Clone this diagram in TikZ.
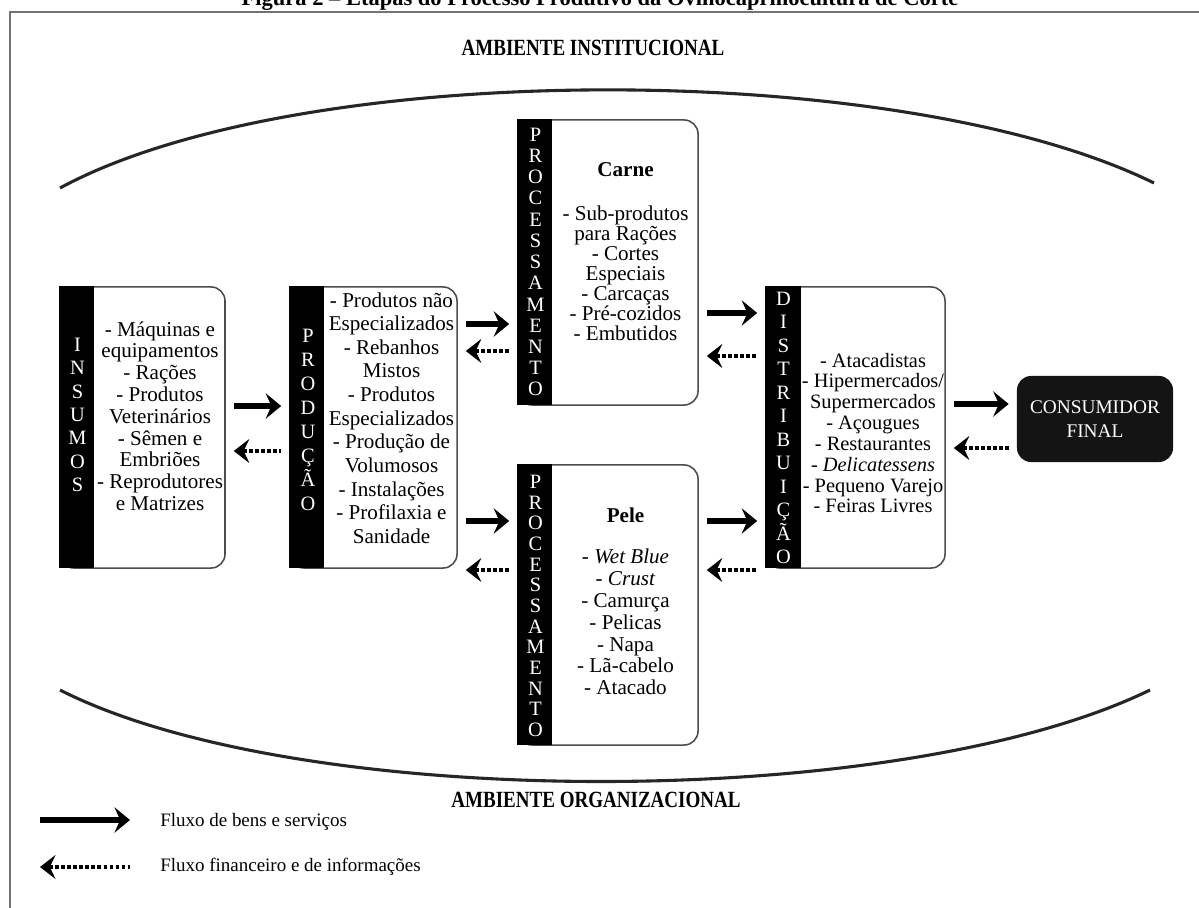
\documentclass[tikz,border=0pt]{standalone}
\usepackage{fontspec}
\setmainfont{Liberation Serif}
\usetikzlibrary{
  arrows.meta,
  positioning,
  calc
}

\begin{document}
\lineskiplimit=-100pt
\begin{tikzpicture}[
  x=0.025cm, y=-0.025cm,
  stage/.style={
    rectangle, rounded corners=0.35cm, draw=black!70, line width=1.1pt,
    fill=white, inner sep=0pt
  },
  bar/.style={
    rectangle, fill=black, inner sep=0pt,
    minimum width=0.875cm, minimum height=#1, anchor=north west
  },
  barword/.style={
    text=white, align=center, inner sep=0pt,
    font=\fontsize{14.5}{#1}\selectfont
  },
  items/.style={
    align=center, inner sep=0pt,
    font=\fontsize{15}{#1}\selectfont
  },
  heading/.style={font=\fontsize{15}{15}\selectfont\bfseries, inner sep=0pt},
  sink/.style={
    rectangle, rounded corners=0.35cm, fill=black!92, text=white,
    align=center, inner sep=0pt, minimum width=3.9cm, minimum height=2.15cm,
    font=\fontsize{13.75}{17}\selectfont
  },
  envline/.style={line width=2.2pt, black!85},
  envlabel/.style={font=\fontsize{16.5}{16.5}\selectfont\bfseries, inner sep=0pt},
  frame/.style={line width=1.2pt, black!55},
  flow/.style={
    -{Stealth[length=11pt, width=18pt, inset=4pt]}, line width=3.6pt,
    shorten <=0.2cm, shorten >=0.2cm
  },
  back/.style={
    {Stealth[length=11pt, width=17pt, inset=4pt]}-, line width=2.8pt,
    dash pattern=on 2.6pt off 1.7pt, shorten <=0.2cm, shorten >=0.2cm
  },
  legend/.style={anchor=west, inner sep=0pt, font=\fontsize{13.5}{15}\selectfont},
]

\fill[white] (0,0) rectangle (1199,908);
\useasboundingbox (0,0) rectangle (1199,908);

% Caption (cut by the page edge) and frame
\node[heading, font=\fontsize{16}{16}\selectfont\bfseries, anchor=base] (title) at (600,5)
  {Figura 2 -- Etapas do Processo Produtivo da Ovinocaprinocultura de Corte};
\draw[frame] (10,940) -- (10,12) -- (1230,12);

% Environment arcs and labels
\draw[envline] (60,188) .. controls (300,58) and (900,58) .. (1154,183);
\draw[envline] (60,690) .. controls (300,812) and (900,812) .. (1150,690);
\node[envlabel] (inst) at (593,48) {\scalebox{0.82}[1]{AMBIENTE INSTITUCIONAL}};
\node[envlabel] (org) at (596,800) {\scalebox{0.82}[1]{AMBIENTE ORGANIZACIONAL}};

% Insumos
\node[stage, minimum width=4.125cm, minimum height=7.025cm] (ins) at (142.5,427.5) {};
\node[bar=7.025cm] (insbar) at (ins.north west) {};
\node[barword=16.6pt] (insword) at (77.5,415) {I\\N\\S\\U\\M\\O\\S};
\node[items=15.5pt] (instxt) at (160,416)
  {- Máquinas e\\equipamentos\\- Rações\\- Produtos\\Veterinários\\
   - Sêmen e\\Embriões\\- Reprodutores\\e Matrizes};

% Producao
\node[stage, minimum width=4.175cm, minimum height=7.025cm] (prod) at (373.5,427.5) {};
\node[bar=7.025cm] (prodbar) at (prod.north west) {};
\node[barword=17pt] (prodword) at (308,420) {P\\R\\O\\D\\U\\Ç\\Ã\\O};
\node[items=16.8pt] (prodtxt) at (391.5,418)
  {- Produtos não\\Especializados\\- Rebanhos\\Mistos\\- Produtos\\
   Especializados\\- Produção de\\Volumosos\\- Instalações\\
   - Profilaxia e\\Sanidade};

% Processamento: carne
\node[stage, minimum width=4.5cm, minimum height=7.125cm] (carne) at (608,262.5) {};
\node[bar=7.125cm] (carnebar) at (carne.north west) {};
\node[barword=15.1pt] (carneword) at (535.5,262)
  {P\\R\\O\\C\\E\\S\\S\\A\\M\\E\\N\\T\\O};
\node[heading] (carnehead) at (625.5,170) {Carne};
\node[items=14.2pt] (carnetxt) at (625.5,273)
  {- Sub-produtos\\para Rações\\- Cortes\\Especiais\\- Carcaças\\
   - Pré-cozidos\\- Embutidos};

% Processamento: pele
\node[stage, minimum width=4.5cm, minimum height=7cm] (pele) at (608,605) {};
\node[bar=7cm] (pelebar) at (pele.north west) {};
\node[barword=14.7pt] (peleword) at (535.5,606)
  {P\\R\\O\\C\\E\\S\\S\\A\\M\\E\\N\\T\\O};
\node[heading] (pelehead) at (625.5,515) {Pele};
\node[items=15.5pt] (peletxt) at (625.5,622)
  {- \textit{Wet Blue}\\- \textit{Crust}\\- Camurça\\- Pelicas\\- Napa\\
   - Lã-cabelo\\- Atacado};

% Distribuicao
\node[stage, minimum width=4.475cm, minimum height=7.025cm] (dist) at (855.5,427.5) {};
\node[bar=7.025cm] (distbar) at (dist.north west) {};
\node[barword=16.7pt] (distword) at (783.5,428)
  {D\\I\\S\\T\\R\\I\\B\\U\\I\\Ç\\Ã\\O};
\node[items=14.8pt, font=\fontsize{14.5}{14.8pt}\selectfont] (disttxt) at (873,433)
  {- Atacadistas\\- Hipermercados/\\Supermercados\\- Açougues\\
   - Restaurantes\\- \textit{Delicatessens}\\- Pequeno Varejo\\- Feiras Livres};

% Consumidor final
\node[sink] (cons) at (1095,419) {CONSUMIDOR\\FINAL};

% Flows between stages
\draw[flow] (ins.east |- 0,406) -- (prod.west |- 0,406);
\draw[back] (ins.east |- 0,451) -- (prod.west |- 0,451);
\draw[flow] (prod.east |- 0,324) -- (carne.west |- 0,324);
\draw[back] (prod.east |- 0,351) -- (carne.west |- 0,351);
\draw[flow] (prod.east |- 0,521) -- (pele.west |- 0,521);
\draw[back] (prod.east |- 0,570) -- (pele.west |- 0,570);
\draw[flow] (carne.east |- 0,313) -- (dist.west |- 0,313);
\draw[back] (carne.east |- 0,356) -- (dist.west |- 0,356);
\draw[flow] (pele.east |- 0,521) -- (dist.west |- 0,521);
\draw[back] (pele.east |- 0,570) -- (dist.west |- 0,570);
\draw[flow] (dist.east |- 0,404) -- (cons.west |- 0,404);
\draw[back] (dist.east |- 0,448) -- (cons.west |- 0,448);

% Legend
\coordinate (goodsA) at (40,820);
\coordinate (goodsB) at (130,820);
\coordinate (moneyA) at (40,867);
\coordinate (moneyB) at (130,867);
\draw[flow, shorten <=0pt, shorten >=0pt] (goodsA) -- (goodsB);
\draw[back, shorten <=0pt, shorten >=0pt] (moneyA) -- (moneyB);
\node[legend] (goodstxt) at (160,822) {Fluxo de bens e serviços};
\node[legend] (moneytxt) at (160,867) {Fluxo financeiro e de informações};

\end{tikzpicture}
\end{document}
